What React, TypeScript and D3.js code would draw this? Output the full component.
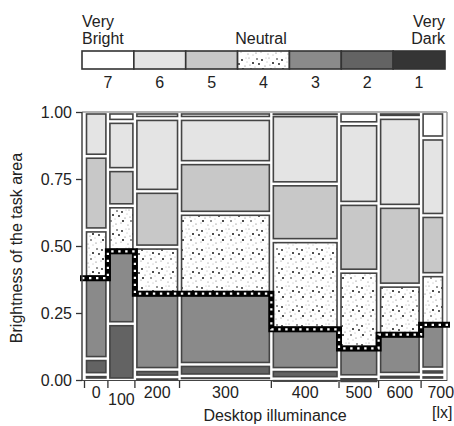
import React, { useEffect, useRef } from 'react';
import * as d3 from 'd3';

// desktop illuminance groups and their share of responses (column widths)
const illuminance = ['0', '100', '200', '300', '400', '500', '600', '700'];
const share = [6.5, 7.5, 12.4, 25.5, 18.8, 11.0, 11.8, 6.5];

// proportion of each brightness rating inside every illuminance group
const rating1 = [0.02, 0, 0.011, 0.015, 0.005, 0.004, 0, 0.019];
const rating2 = [0.06, 0.21, 0.028, 0.043, 0.034, 0.008, 0.021, 0.022];
const rating3 = [0.3, 0.27, 0.283, 0.264, 0.15, 0.106, 0.148, 0.165];
const rating4 = [0.18, 0.17, 0.174, 0.3, 0.331, 0.288, 0.185, 0.187];
const rating5 = [0.275, 0.135, 0.208, 0.189, 0.212, 0.253, 0.294, 0.221];
const rating6 = [0.165, 0.18, 0.272, 0.165, 0.258, 0.297, 0.332, 0.289];
const rating7 = [0, 0.035, 0.024, 0.024, 0.01, 0.044, 0.02, 0.097];

const ratings = [1, 2, 3, 4, 5, 6, 7];
const legendOrder = [7, 6, 5, 4, 3, 2, 1];
const yTicks = [0, 0.25, 0.5, 0.75, 1];

const FONT = '"Liberation Sans", Arial, Helvetica, sans-serif';
const fills: Record<number, string> = {
  1: '#353535',
  2: '#636363',
  3: '#8a8a8a',
  4: 'url(#speckle)',
  5: '#c8c8c8',
  6: '#e4e4e4',
  7: '#ffffff'
};
// texture of the neutral cells
const speckles = [
  [2, 3, 0.9], [9, 1, 0.5], [13, 6, 1.0], [5, 9, 0.6], [11, 12, 0.8],
  [1, 14, 0.5], [7, 5, 0.45], [16, 15, 0.6], [3, 12, 1.0], [15, 10, 0.45],
  [8, 16, 0.5], [17, 2, 0.8], [6, 1, 0.4], [10, 8, 0.5], [19, 7, 0.9],
  [13, 17, 0.45]
];

export default function App() {
  const ref = useRef<SVGSVGElement>(null);

  useEffect(() => {
    const svg = d3.select(ref.current);
    svg.selectAll('*').remove();

    const defs = svg.append('defs');
    const pat = defs.append('pattern')
      .attr('id', 'speckle')
      .attr('patternUnits', 'userSpaceOnUse')
      .attr('width', 20)
      .attr('height', 19);
    pat.append('rect').attr('width', 20).attr('height', 19).attr('fill', '#fff');
    pat.selectAll('circle').data(speckles).enter().append('circle')
      .attr('cx', d => d[0]).attr('cy', d => d[1]).attr('r', d => d[2])
      .attr('fill', d => (d[2] > 0.6 ? '#111' : '#666'));

    const props: Record<number, number[]> = {
      1: rating1, 2: rating2, 3: rating3, 4: rating4, 5: rating5, 6: rating6, 7: rating7
    };

    const x = d3.scaleLinear().domain([0, d3.sum(share)]).range([84.5, 444.5]);
    const y = d3.scaleLinear().domain([0, 1]).range([380, 112]);

    let acc = 0;
    const starts = share.map(s => { const v = acc; acc += s; return v; });

    // frame
    svg.append('line').attr('x1', 82).attr('x2', 447).attr('y1', 112).attr('y2', 112)
      .attr('stroke', '#999').attr('stroke-width', 1.5);
    svg.append('line').attr('x1', 447).attr('x2', 447).attr('y1', 112).attr('y2', 381)
      .attr('stroke', '#999').attr('stroke-width', 1.5);

    // mosaic cells
    const cells: any[] = [];
    illuminance.forEach((lab, i) => {
      let lo = 0;
      ratings.forEach(r => {
        const p = props[r][i];
        if (p > 0) cells.push({ i, r, lo, hi: lo + p });
        lo += p;
      });
    });
    svg.append('g').selectAll('rect').data(cells).enter().append('rect')
      .attr('x', d => x(starts[d.i]) + 2)
      .attr('width', d => x(starts[d.i] + share[d.i]) - x(starts[d.i]) - 4)
      .attr('y', d => y(d.hi) + 2)
      .attr('height', d => Math.max(0.5, y(d.lo) - y(d.hi) - 4))
      .attr('fill', d => fills[d.r])
      .attr('stroke', '#444')
      .attr('stroke-width', 1.6);

    // boundary between neutral and darker ratings
    const pts: [number, number][] = [];
    illuminance.forEach((lab, i) => {
      const c = rating1[i] + rating2[i] + rating3[i];
      const x0 = i === 0 ? 80 : x(starts[i]);
      const x1 = i === illuminance.length - 1 ? 450 : x(starts[i] + share[i]);
      pts.push([x0, y(c)], [x1, y(c)]);
    });
    const line = d3.line();
    svg.append('path').attr('d', line(pts)).attr('fill', 'none')
      .attr('stroke', '#000').attr('stroke-width', 6).attr('stroke-linejoin', 'miter');
    svg.append('path').attr('d', line(pts)).attr('fill', 'none')
      .attr('stroke', '#fff').attr('stroke-width', 2.2)
      .attr('stroke-dasharray', '2.4 4.6').attr('stroke-dashoffset', -2);

    // axes
    svg.append('line').attr('x1', 82).attr('x2', 82).attr('y1', 112).attr('y2', 381)
      .attr('stroke', '#444').attr('stroke-width', 1.5);
    svg.append('line').attr('x1', 82).attr('x2', 447).attr('y1', 380.5).attr('y2', 380.5)
      .attr('stroke', '#444').attr('stroke-width', 1.2);

    const yAxis = svg.append('g').attr('transform', 'translate(82,0)')
      .call(d3.axisLeft(y).tickValues(yTicks).tickFormat(d3.format('.2f')).tickSize(6).tickPadding(4));
    yAxis.select('.domain').remove();
    yAxis.selectAll('line').attr('stroke', '#333').attr('stroke-width', 1.3);
    yAxis.selectAll('text').attr('font-family', FONT).attr('font-size', 16).attr('fill', '#222');

    const xg = svg.append('g');
    xg.selectAll('line').data(starts).enter().append('line')
      .attr('x1', d => x(d)).attr('x2', d => x(d))
      .attr('y1', 381).attr('y2', 388)
      .attr('stroke', '#333').attr('stroke-width', 1.3);
    xg.selectAll('text').data(illuminance).enter().append('text')
      .attr('x', (d, i) => x(starts[i] + share[i] / 2) + (i === illuminance.length - 1 ? 8 : 0))
      .attr('y', (d, i) => (i === 1 ? 405 : 398))
      .attr('text-anchor', 'middle')
      .attr('font-family', FONT).attr('font-size', 16).attr('fill', '#222')
      .text(d => d);
    xg.append('text').attr('x', 432).attr('y', 418)
      .attr('font-family', FONT).attr('font-size', 16).attr('fill', '#222')
      .text('[lx]');

    svg.append('text').attr('x', 275).attr('y', 421).attr('text-anchor', 'middle')
      .attr('font-family', FONT).attr('font-size', 16).attr('fill', '#222')
      .text('Desktop illuminance');
    svg.append('text').attr('transform', 'translate(22,248) rotate(-90)')
      .attr('text-anchor', 'middle')
      .attr('font-family', FONT).attr('font-size', 16).attr('fill', '#222')
      .text('Brightness of the task area');

    // legend
    const lx = d3.scaleBand<number>().domain(legendOrder).range([82, 445]);
    const lg = svg.append('g');
    lg.selectAll('rect').data(legendOrder).enter().append('rect')
      .attr('x', d => lx(d)!).attr('y', 51)
      .attr('width', lx.bandwidth()).attr('height', 18)
      .attr('fill', d => fills[d])
      .attr('stroke', '#333').attr('stroke-width', 1.6);
    lg.selectAll('text.num').data(legendOrder).enter().append('text')
      .attr('class', 'num')
      .attr('x', d => lx(d)! + lx.bandwidth() / 2).attr('y', 88)
      .attr('text-anchor', 'middle')
      .attr('font-family', FONT).attr('font-size', 16).attr('fill', '#222')
      .text(d => d);
    const words: [string, number, number, string][] = [
      ['Very', 82, 27, 'start'], ['Bright', 82, 43.5, 'start'],
      ['Neutral', 261, 43.5, 'middle'],
      ['Very', 445, 27, 'end'], ['Dark', 445, 43.5, 'end']
    ];
    lg.selectAll('text.word').data(words).enter().append('text')
      .attr('class', 'word')
      .attr('x', d => d[1]).attr('y', d => d[2])
      .attr('text-anchor', d => d[3])
      .attr('font-family', FONT).attr('font-size', 16).attr('fill', '#222')
      .text(d => d[0]);
  }, []);

  return (
    <svg ref={ref} width={454} height={426}
      style={{ position: 'absolute', left: 0, top: 0, background: '#fff' }} />
  );
}
